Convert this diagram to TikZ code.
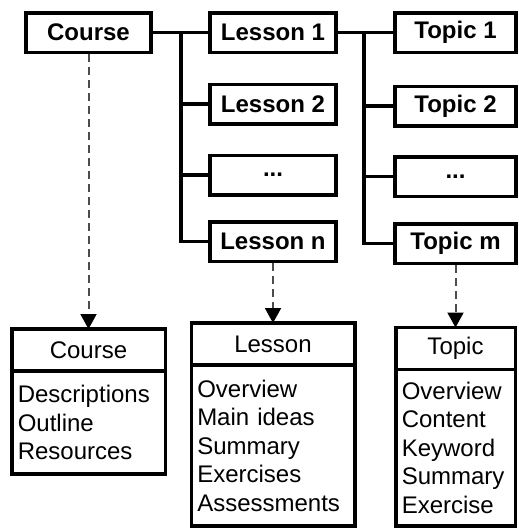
\documentclass[tikz,border=0pt]{standalone}
\usepackage{fontspec}
\setmainfont{Liberation Sans}
\usetikzlibrary{arrows.meta,positioning}

\begin{document}
\begin{tikzpicture}[x=1pt, y=-1pt,
  unit/.style={rectangle, draw=black, line width=3.5pt, fill=white,
               minimum height=39.5pt, inner sep=0pt,
               font=\fontsize{24}{28}\selectfont\bfseries},
  link/.style={line width=3.5pt},
  dep/.style={-{Triangle[length=15pt,width=16pt,color=black]}, line width=2pt,
              draw=black!70, dash pattern=on 8pt off 5pt},
  chead/.style={rectangle, draw=black, line width=3.5pt, fill=white,
                minimum height=42pt, inner sep=0pt, outer sep=0pt,
                font=\fontsize{24}{28}\selectfont},
  cbody/.style={rectangle, draw=black, line width=3.5pt, fill=white,
                anchor=north, inner xsep=6pt, inner ysep=0pt, outer sep=0pt,
                align=left, font=\fontsize{24}{28.5}\selectfont},
]
  \useasboundingbox (0,0) rectangle (519,530);
  % structure: course -> lessons -> topics
  \node[unit, minimum width=125pt](course) at (88.5,32.5){Course};
  \node[unit, minimum width=126pt](lesson1) at (273,32.5){Lesson 1};
  \node[unit, minimum width=126pt](lesson2) at (273,104){Lesson 2};
  \node[unit, minimum width=126pt](lesson3) at (273,175){...};
  \node[unit, minimum width=126pt](lessonn) at (273,241.5){Lesson n};
  \node[unit, minimum width=121pt](topic1) at (455.5,32.5){Topic 1};
  \node[unit, minimum width=121pt](topic2) at (455.5,106){Topic 2};
  \node[unit, minimum width=121pt](topic3) at (455.5,176.5){...};
  \node[unit, minimum width=121pt](topicm) at (455.5,243.5){Topic m};
  \coordinate (ja) at (181,32.5);
  \coordinate (jb) at (364,32.5);
  \draw[link](course)--(lesson1); \draw[link](lesson1)--(topic1);
  \foreach \n in {2,3,n} \draw[link](ja)|-(lesson\n);
  \foreach \n in {2,3,m} \draw[link](jb)|-(topic\n);
  % content of each level
  \node[chead, minimum width=153.5pt](hcourse) at (88.5,350){Course};
  \node[cbody, minimum height=103pt, text width=141.5pt](bcourse) at (hcourse.south)
    {Descriptions\\Outline\\Resources};
  \node[chead, minimum width=163.5pt](hlesson) at (273,344){Lesson};
  \node[cbody, minimum height=161pt, text width=151.5pt](blesson) at (hlesson.south)
    {Overview\\Main ideas\\Summary\\Exercises\\Assessments};
  \node[chead, minimum width=119.5pt](htopic) at (455.5,348.5){Topic};
  \node[cbody, minimum height=156.5pt, text width=107.5pt](btopic) at (htopic.south)
    {Overview\\Content\\Keyword\\Summary\\Exercise};
  \draw[dep](course)--(hcourse);
  \draw[dep](lessonn)--(hlesson);
  \draw[dep](topicm)--(htopic);
\end{tikzpicture}
\end{document}
